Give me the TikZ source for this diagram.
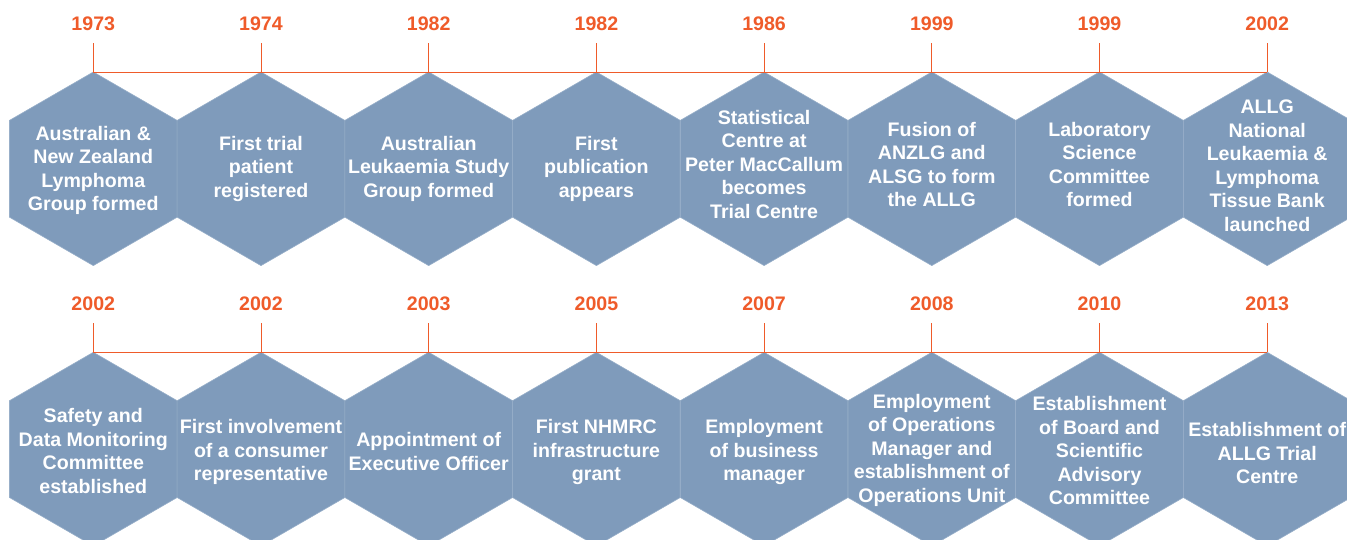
\documentclass[tikz,border=0pt]{standalone}
\usepackage{fontspec}
\setmainfont{Liberation Sans}
\usetikzlibrary{shapes.geometric}
\definecolor{hexblue}{HTML}{7F9BBB}
\definecolor{hexedge}{HTML}{98AFC9}
\definecolor{yearorange}{HTML}{EF5B2A}
\begin{document}
\begin{tikzpicture}[x=1pt,y=-1pt,
  hexcell/.style={regular polygon, regular polygon sides=6, shape border rotate=30,
    minimum size=193.6pt, inner sep=0pt, outer sep=0pt,
    fill=hexblue, draw=hexedge, line width=0.6pt},
  hextext/.style={text=white, font=\bfseries\fontsize{19.6}{23.5}\selectfont,
    align=center, inner sep=0pt},
  yeartext/.style={text=yearorange, font=\bfseries\fontsize{19.6}{23.5}\selectfont,
    inner sep=0pt},
  tickline/.style={draw=yearorange, line width=0.9pt}]
\useasboundingbox (0,0) rectangle (1347,540);
\clip (0,0) rectangle (1347,540);

% upper row of milestones
\foreach \i/\yr in {1/1973,2/1974,3/1982,4/1982,5/1986,6/1999,7/1999,8/2002}{
  \node[hexcell] (a\i) at ({93.3+167.7*(\i-1)},168.8) {};
  \node[yeartext] (ya\i) at ({93.3+167.7*(\i-1)},23.5) {\yr};
  \draw[tickline] (a\i.north) -- ++(0,-29);
}
\draw[tickline] (a1.north) -- (a8.north);

\foreach \i/\ty/\t in {
  1/170.5/{Australian \&\\New Zealand\\Lymphoma\\Group formed},
  2/168.5/{First trial\\patient\\registered},
  3/168.5/{Australian\\Leukaemia Study\\Group formed},
  4/168.5/{First\\publication\\appears},
  5/164/{Statistical\\Centre at\\Peter MacCallum\\becomes\\Trial Centre},
  6/164.5/{Fusion of\\ANZLG and\\ALSG to form\\the ALLG},
  7/164.5/{Laboratory\\Science\\Committee\\formed},
  8/166/{ALLG\\National\\Leukaemia \&\\Lymphoma\\Tissue Bank\\launched}}{
  \node[hextext] (ta\i) at ({93.3+167.7*(\i-1)},\ty) {\t};
}

% lower row of milestones
\foreach \i/\yr in {1/2002,2/2002,3/2003,4/2005,5/2007,6/2008,7/2010,8/2013}{
  \node[hexcell] (b\i) at ({93.3+167.7*(\i-1)},449.1) {};
  \node[yeartext] (yb\i) at ({93.3+167.7*(\i-1)},304) {\yr};
  \draw[tickline] (b\i.north) -- ++(0,-29);
}
\draw[tickline] (b1.north) -- (b8.north);

\foreach \i/\ty/\t in {
  1/451/{Safety and\\Data Monitoring\\Committee\\established},
  2/452/{First involvement\\of a consumer\\representative},
  3/451.5/{Appointment of\\Executive Officer},
  4/452/{First NHMRC\\infrastructure\\grant},
  5/452/{Employment\\of business\\manager},
  6/450/{Employment\\of Operations\\Manager and\\establishment of\\Operations Unit},
  7/450.5/{Establishment\\of Board and\\Scientific\\Advisory\\Committee},
  8/453/{Establishment of\\ALLG Trial\\Centre}}{
  \node[hextext] (tb\i) at ({93.3+167.7*(\i-1)},\ty) {\t};
}
\end{tikzpicture}
\end{document}
